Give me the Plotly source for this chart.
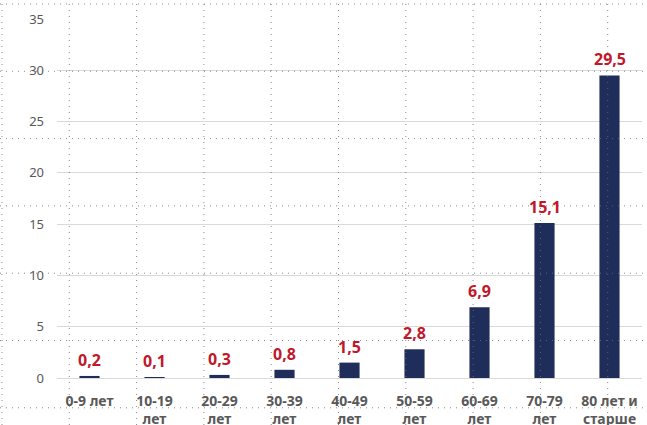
import plotly.graph_objects as go

categories = ["0-9 лет", "10-19<br>лет", "20-29<br>лет", "30-39<br>лет", "40-49<br>лет",
              "50-59<br>лет", "60-69<br>лет", "70-79<br>лет", "80 лет и<br>старше"]
values = [0.2, 0.1, 0.3, 0.8, 1.5, 2.8, 6.9, 15.1, 29.5]
y_ticks = [0, 5, 10, 15, 20, 25, 30, 35]

W, H = 647, 425
L, R, T, B = 57, 5, 19, 47
PW, PH = W - L - R, H - T - B

fig = go.Figure(go.Bar(
    x=categories, y=values,
    marker=dict(color="#1F2D5A", line=dict(width=0)),
    width=0.31,
    cliponaxis=False,
))

for c, v in zip(categories, values):
    fig.add_annotation(
        x=c, y=v, text=f"{v:.1f}".replace(".", ","), showarrow=False,
        yanchor="middle", yshift=16,
        font=dict(family="Noto Sans", size=16, color="#C0182A", weight="bold"),
    )

# decorative dotted overlay grid seen in the screenshot
GRID_STEP = 67.3
shapes = []
for k in range(10):
    px = 2 + GRID_STEP * k
    xp = (px - L) / PW
    shapes.append(dict(type="line", xref="paper", yref="paper", x0=xp, x1=xp,
                       y0=-B / PH, y1=1 + T / PH, layer="above",
                       line=dict(color="rgba(110,110,110,0.8)", width=1, dash="1px,5px")))
for k in range(7):
    py = 4 + GRID_STEP * k
    yp = (H - py - B) / PH
    shapes.append(dict(type="line", xref="paper", yref="paper", x0=-L / PW, x1=1 + R / PW,
                       y0=yp, y1=yp, layer="above",
                       line=dict(color="rgba(110,110,110,0.8)", width=1, dash="1px,5px")))

fig.update_layout(
    width=W, height=H,
    margin=dict(l=L, r=R, t=T, b=B, autoexpand=False),
    paper_bgcolor="white", plot_bgcolor="white",
    showlegend=False,
    bargap=0.69,
    font=dict(family="Noto Sans", color="#595959"),
    xaxis=dict(
        tickfont=dict(size=14, color="#595959", weight="bold"),
        showgrid=False, showline=True, linecolor="#D9D9D9", linewidth=1,
        ticks="", fixedrange=True, automargin=False, ticklabelstandoff=10,
    ),
    yaxis=dict(
        range=[0, 35], tickvals=y_ticks,
        tickfont=dict(size=13, color="#595959"),
        showgrid=True, gridcolor="#D9D9D9", gridwidth=1,
        zeroline=False, showline=False, ticks="", ticklabelstandoff=12,
        automargin=False, fixedrange=True,
    ),
    shapes=shapes,
)

fig.write_html(
    "out.html",
    config={"displayModeBar": False, "staticPlot": True},
    post_script="document.body.style.margin='0';document.body.style.overflow='hidden';",
)
